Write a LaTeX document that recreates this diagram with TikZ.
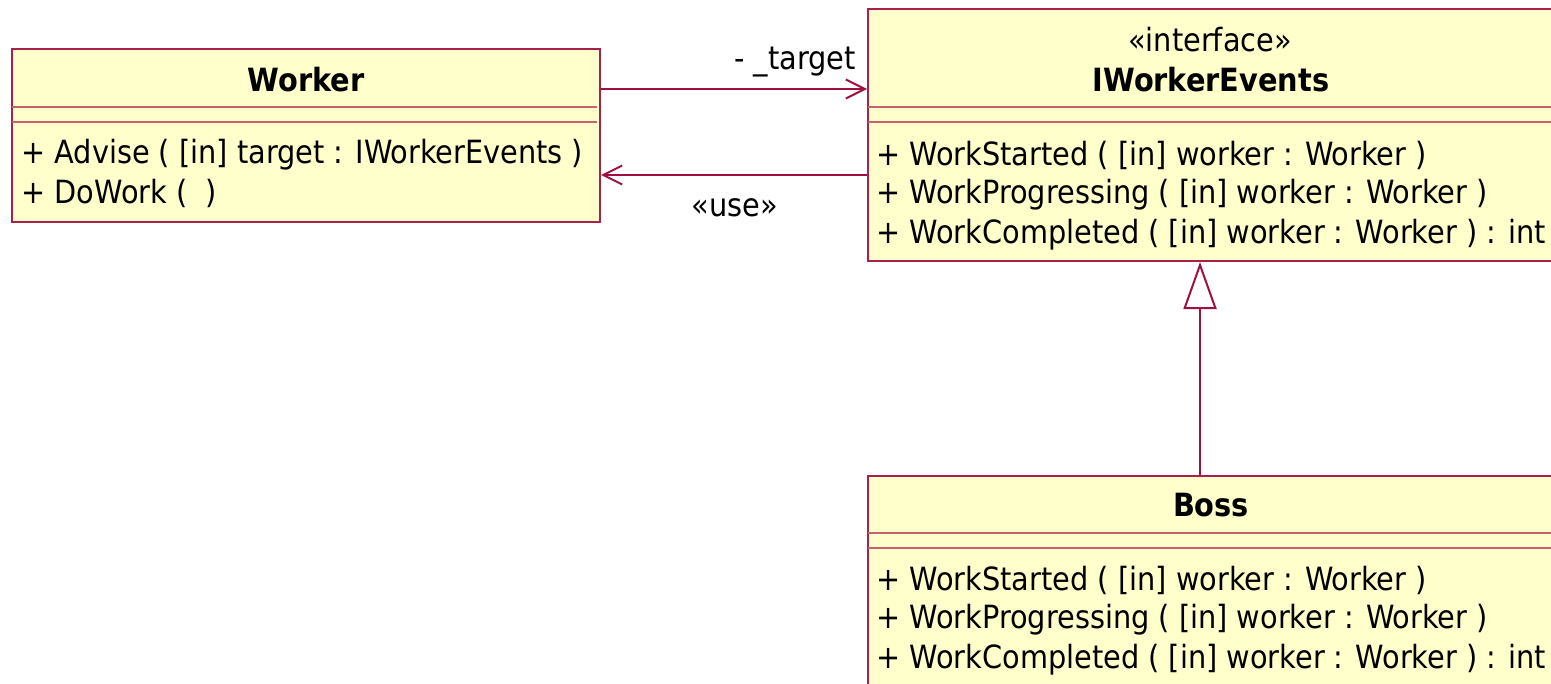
\documentclass[tikz,border=0pt]{standalone}
\usepackage{fontspec}
\setmainfont{DejaVu Sans Condensed}
\usetikzlibrary{arrows.meta}
\definecolor{umlfill}{HTML}{FFFFCC}
\definecolor{umlborder}{HTML}{A8204C}
\definecolor{umlsep}{HTML}{C86070}
\definecolor{umlline}{HTML}{A0103F}
\begin{document}
\begin{tikzpicture}[x=0.5pt,y=-0.5pt,
  classbox/.style={draw=umlborder, fill=umlfill, line width=1pt, rectangle, anchor=north west, inner sep=0pt},
  sepline/.style={draw=umlsep, line width=1pt},
  member/.style={anchor=west, inner sep=0pt, font=\fontsize{16}{18}\selectfont},
  ctitle/.style={inner sep=0pt, font=\fontsize{16}{18}\selectfont\bfseries},
  stereo/.style={inner sep=0pt, font=\fontsize{16}{18}\selectfont},
  conn/.style={draw=umlline, line width=1pt},
  assoc/.style={conn, -{Straight Barb[length=9.5pt,width=9.5pt]}},
  gen/.style={conn, -{Triangle[open,length=23.5pt,width=16.5pt,fill=white]}},
  elabel/.style={inner sep=0pt, font=\fontsize{16}{18}\selectfont}
]
\clip (0,0) rectangle (1551,684);
\fill[white] (0,0) rectangle (1551,684);

% Worker
\node[classbox, minimum width=294pt, minimum height=86.5pt] (worker) at (11,48) {};
\draw[sepline] (12,107) -- (597,107);
\draw[sepline] (12,122) -- (597,122);
\node[ctitle] (workertitle) at (306,80) {Worker};
\node[member] (wm1) at (21,155) {+ Advise ( [in] target : IWorkerEvents )};
\node[member] (wm2) at (21,193) {+ DoWork ( ~)};

% IWorkerEvents
\node[classbox, minimum width=343pt, minimum height=126pt] (iwe) at (867,8) {};
\draw[sepline] (868,107) -- (1560,107);
\draw[sepline] (868,122) -- (1560,122);
\node[stereo] (iwestereo) at (1210,40) {«interface»};
\node[ctitle] (iwetitle) at (1211,80) {IWorkerEvents};
\node[member] (im1) at (876,155) {+ WorkStarted ( [in] worker : Worker )};
\node[member] (im2) at (876,195) {+ WorkProgressing ( [in] worker : Worker )};
\node[member] (im3) at (876,235) {+ WorkCompleted ( [in] worker : Worker ) : int};

% Boss
\node[classbox, minimum width=343pt, minimum height=150pt] (boss) at (867,475) {};
\draw[sepline] (868,533) -- (1560,533);
\draw[sepline] (868,548) -- (1560,548);
\node[ctitle] (bosstitle) at (1211,505) {Boss};
\node[member] (bm1) at (876,580) {+ WorkStarted ( [in] worker : Worker )};
\node[member] (bm2) at (876,620) {+ WorkProgressing ( [in] worker : Worker )};
\node[member] (bm3) at (876,660) {+ WorkCompleted ( [in] worker : Worker ) : int};

% connectors
\draw[assoc] ([yshift=-20.5pt]worker.north east) -- ([yshift=-20.5pt]worker.north east -| iwe.west);
\draw[assoc] ([yshift=-63.5pt]worker.north east -| iwe.west) -- ([yshift=-63.5pt]worker.north east);
\draw[gen] ([xshift=-5.5pt]boss.north) -- ([xshift=-5.5pt]iwe.south);

\node[elabel, anchor=east] (ltarget) at (856,62) {- \_target};
\node[elabel] (luse) at (735,208) {«use»};
\end{tikzpicture}
\end{document}
